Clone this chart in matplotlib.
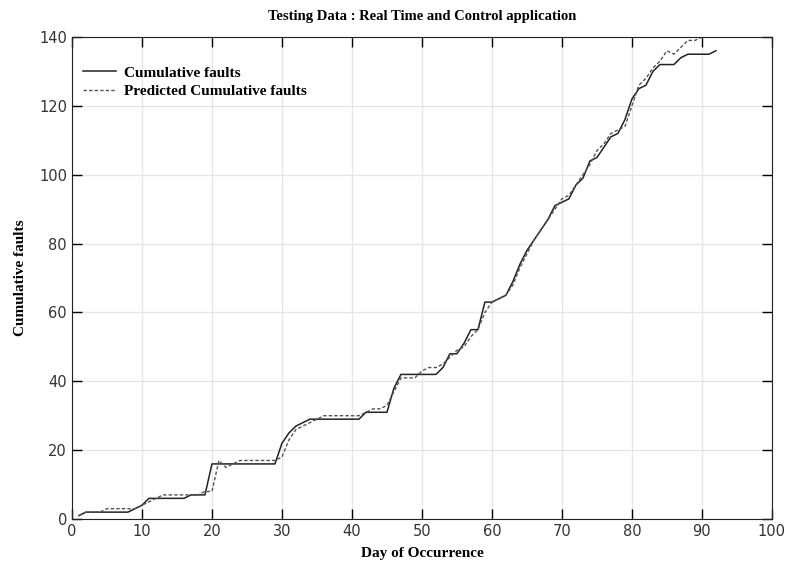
import matplotlib
matplotlib.use('Agg')
from matplotlib import pyplot as plt

# day of occurrence and cumulative faults
days_actual = list(range(1, 93))
faults_actual = [1, 2, 2, 2, 2, 2, 2, 2, 3, 4,
                 6, 6, 6, 6, 6, 6, 7, 7, 7, 16,
                 16, 16, 16, 16, 16, 16, 16, 16, 16, 22,
                 25, 27, 28, 29, 29, 29, 29, 29, 29, 29,
                 29, 31, 31, 31, 31, 38, 42, 42, 42, 42,
                 42, 42, 44, 48, 48, 51, 55, 55, 63, 63,
                 64, 65, 69, 74, 78, 81, 84, 87, 91, 92,
                 93, 97, 99, 104, 105, 108, 111, 112, 116, 122,
                 125, 126, 130, 132, 132, 132, 134, 135, 135, 135,
                 135, 136]

days_pred = list(range(1, 92))
faults_pred = [1, 2, 2, 2, 3, 3, 3, 3, 3, 4,
               5, 6, 7, 7, 7, 7, 7, 7, 8, 8,
               17, 15, 16, 17, 17, 17, 17, 17, 17, 18,
               23, 26, 27, 28, 29, 30, 30, 30, 30, 30,
               30, 31, 32, 32, 33, 37, 41, 41, 41, 43,
               44, 44, 45, 47, 49, 50, 53, 55, 60, 63,
               64, 65, 68, 73, 77, 81, 84, 87, 90, 93,
               94, 97, 100, 103, 107, 109, 112, 113, 114, 120,
               126, 128, 131, 133, 136, 135, 137, 139, 139, 140,
               141]

serif = {'family': 'Liberation Serif', 'weight': 'bold'}

fig = plt.figure(figsize=(7.9, 5.65), dpi=100)
ax = fig.add_axes([0.0911, 0.0814, 0.886, 0.8531])

ax.plot(days_actual, faults_actual, c='#222222', lw=1.1, label='Cumulative faults')
ax.plot(days_pred, faults_pred, c='#555555', lw=1.0, ls=(0, (2.5, 1.5)),
        label='Predicted Cumulative faults')

ax.set_xlim(0, 100)
ax.set_ylim(0, 140)
ax.set_xticks(range(0, 101, 10))
ax.set_yticks(range(0, 141, 20))
ax.grid(True, color='#e6e6e6', lw=1)
ax.set_axisbelow(True)
ax.tick_params(direction='in', length=7, width=1, top=True, right=True,
               labelsize=10.5, labelcolor='#333333')
for s in ax.spines.values():
    s.set_color('#222222')

ax.set_title('Testing Data : Real Time and Control application',
             fontdict=dict(serif, size=10.5), pad=12)
ax.set_xlabel('Day of Occurrence', fontdict=dict(serif, size=11), labelpad=6)
ax.set_ylabel('Cumulative faults', fontdict=dict(serif, size=11), labelpad=9)

leg = ax.legend(loc='upper left', frameon=False, bbox_to_anchor=(0.0, 0.962),
                prop={'family': 'Liberation Serif', 'weight': 'bold', 'size': 11},
                handlelength=2.2, handletextpad=0.5, labelspacing=0.3,
                borderaxespad=0.3)

fig.savefig('out.png', dpi=100)
